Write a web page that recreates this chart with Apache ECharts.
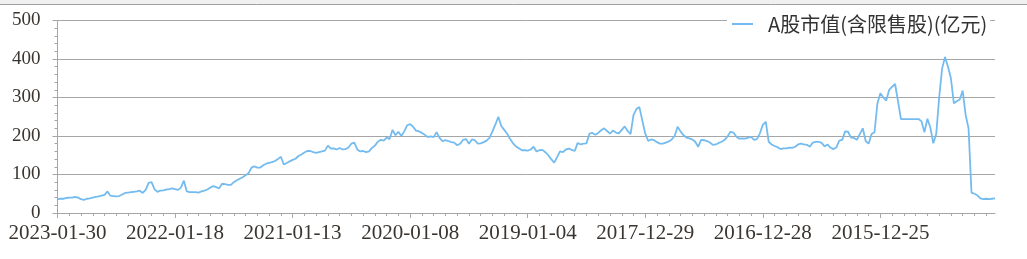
<!DOCTYPE html>
<html>
<head>
<meta charset="utf-8">
<script src="https://cdn.jsdelivr.net/npm/echarts@6/dist/echarts.min.js"></script>
<style>html,body{margin:0;padding:0;background:#fff;}#c{width:1027px;height:259px;}</style>
</head>
<body>
<div id="c"></div>
<script>
const seriesName = 'A股市值(含限售股)(亿元)';
const tickLabels = ['2023-01-30','2022-01-18','2021-01-13','2020-01-08','2019-01-04','2017-12-29','2016-12-28','2015-12-25'];
const labelStep = 40;
const values = [
  36, 37, 37, 39, 40, 40, 42, 40, 36, 34,
  37, 38, 40, 42, 43, 45, 47, 56, 45, 44,
  43, 44, 48, 52, 53, 54, 55, 56, 58, 52,
  60, 78, 80, 62, 55, 58, 59, 61, 62, 64,
  62, 60, 66, 84, 56, 54, 54, 54, 53, 56,
  58, 61, 66, 70, 67, 64, 76, 75, 73, 73,
  80, 85, 89, 93, 98, 103, 118, 121, 118, 118,
  124, 128, 130, 132, 135, 140, 146, 126, 130, 134,
  138, 141, 148, 152, 157, 161, 161, 158, 156, 158,
  160, 162, 175, 167, 168, 165, 169, 165, 166, 170,
  180, 183, 165, 160, 161, 158, 160, 169, 175, 185,
  190, 188, 196, 192, 216, 202, 211, 200, 212, 228,
  231, 224, 214, 212, 208, 203, 197, 199, 197, 210,
  195, 187, 189, 187, 184, 183, 176, 180, 190, 192,
  180, 191, 189, 180, 181, 184, 188, 195, 212, 230,
  250, 226, 216, 206, 192, 181, 173, 168, 163, 163,
  162, 165, 172, 160, 163, 164, 158, 150, 140, 131,
  145, 160, 158, 165, 167, 164, 161, 182, 178, 180,
  181, 206, 208, 203, 208, 215, 220, 213, 206, 214,
  209, 207, 216, 225, 213, 205, 255, 270, 275, 240,
  206, 187, 191, 189, 184, 180, 180, 183, 186, 191,
  200, 224, 212, 202, 196, 194, 191, 185, 172, 190,
  189, 187, 183, 177, 178, 182, 185, 190, 199, 211,
  209, 198, 193, 194, 193, 196, 198, 190, 192, 207,
  229, 237, 185, 178, 174, 171, 166, 168, 168, 170,
  169, 172, 178, 180, 178, 177, 172, 183, 185, 185,
  182, 173, 178, 170, 166, 170, 188, 190, 212, 211,
  196, 195, 190, 205, 220, 187, 180, 205, 210, 285,
  311, 300, 292, 320, 328, 335, 290, 244, 244, 244,
  244, 244, 244, 244, 238, 210, 245, 222, 181, 205,
  300, 375, 405, 380, 350, 285, 290, 295, 318, 255,
  220, 53, 50, 46, 38, 36, 37, 36, 37, 38
];
const categories = values.map((v, i) => String(i));

const chart = echarts.init(document.getElementById('c'), null, {renderer: 'canvas'});
const axisGray = '#a6a6a6';
const labelColor = '#3a3530';
const lineColor = '#74bcef';
chart.setOption({
  animation: false,
  backgroundColor: '#fff',
  graphic: [
    {type: 'rect', shape: {x: 0, y: 0, width: 1027, height: 4}, style: {fill: '#f0f0f0'}, z: 100},
    {type: 'line', shape: {x1: 0, y1: 4.5, x2: 1027, y2: 4.5}, style: {stroke: '#a0a0a0', lineWidth: 1}, z: 100}
  ],
  legend: {
    data: [{name: seriesName, icon: 'rect', itemStyle: {color: lineColor}}],
    left: 727,
    top: 9,
    padding: [5, 3, 5, 5],
    backgroundColor: '#fff',
    itemWidth: 21,
    itemHeight: 2,
    textStyle: {fontFamily: 'Noto Sans CJK SC', fontSize: 20, color: '#333', padding: [0, 0, 0, 10]}
  },
  grid: {left: 57.5, right: 32, top: 20.5, bottom: 46, containLabel: false},
  xAxis: [{
    type: 'category',
    data: categories,
    boundaryGap: false,
    axisLine: {show: true, lineStyle: {color: axisGray, width: 1}},
    axisTick: {show: true, length: 3, interval: (i) => i % 4 === 0, lineStyle: {color: axisGray}},
    axisLabel: {
      show: true,
      interval: (i) => i % labelStep === 0,
      formatter: (v, i) => tickLabels[i / labelStep] || '',
      fontFamily: 'Liberation Serif',
      fontSize: 21,
      color: labelColor,
      margin: 10
    },
    splitLine: {show: false}
  }, {
    type: 'category',
    data: categories,
    boundaryGap: false,
    position: 'bottom',
    axisLine: {show: false},
    axisTick: {show: true, length: 5, interval: (i) => i % labelStep === 0, lineStyle: {color: axisGray}},
    axisLabel: {show: false},
    splitLine: {show: false}
  }],
  yAxis: {
    type: 'value',
    min: 0,
    max: 500,
    interval: 100,
    axisLine: {show: true, lineStyle: {color: axisGray, width: 1}},
    axisTick: {show: true, length: 5, lineStyle: {color: axisGray}},
    minorTick: {show: true, splitNumber: 5, length: 3, lineStyle: {color: axisGray}},
    axisLabel: {fontFamily: 'Liberation Serif', fontSize: 19, color: labelColor, margin: 17, padding: [0, 0, 6, 0]},
    splitLine: {show: true, lineStyle: {color: axisGray, width: 1}}
  },
  series: [{
    name: seriesName,
    type: 'line',
    data: values,
    symbol: 'none',
    showSymbol: false,
    lineStyle: {color: lineColor, width: 1.8},
    itemStyle: {color: lineColor}
  }]
});
</script>
</body>
</html>
